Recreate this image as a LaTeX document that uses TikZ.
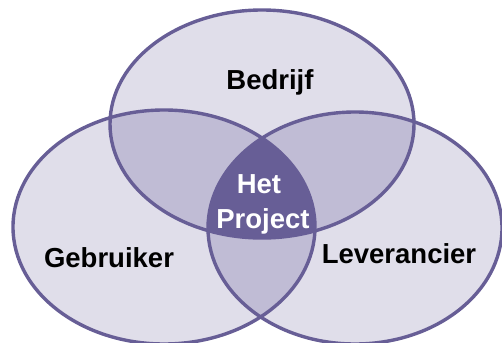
\documentclass[tikz,border=0pt]{standalone}
\usepackage{fontspec}
\setmainfont{Liberation Sans}
\definecolor{setfill}{HTML}{E0DEEA}
\definecolor{pairfill}{HTML}{C0BCD5}
\definecolor{corefill}{HTML}{675E96}
\definecolor{setline}{HTML}{675E96}
\begin{document}
\begin{tikzpicture}[x=1pt,y=-1pt,
  lbl/.style={font=\fontsize{27.5}{34}\selectfont\bfseries, inner sep=0pt, align=center},
  rim/.style={draw=setline, line width=3.4pt}]
\useasboundingbox (0,0) rectangle (502,342);
% ellipse centres
\coordinate (cB) at (262,124);
\coordinate (cG) at (164,227);
\coordinate (cL) at (355,228);
\def\topE{(cB) ellipse [x radius=152, y radius=114]}
\def\leftE{(cG) ellipse [x radius=151, y radius=117]}
\def\rightE{(cL) ellipse [x radius=147, y radius=116]}
% base fills
\fill[setfill] \topE;
\fill[setfill] \leftE;
\fill[setfill] \rightE;
% pairwise overlaps
\begin{scope}\clip \topE; \fill[pairfill] \leftE; \fill[pairfill] \rightE;\end{scope}
\begin{scope}\clip \leftE; \fill[pairfill] \rightE;\end{scope}
% common core
\begin{scope}\clip \topE; \clip \leftE; \fill[corefill] \rightE;\end{scope}
% outlines
\draw[rim] \topE;
\draw[rim] \leftE;
\draw[rim] \rightE;
% labels
\node[lbl, anchor=base] (bedrijf) at (270,89) {Bedrijf};
\node[lbl, anchor=base] (gebruiker) at (109,267) {Gebruiker};
\node[lbl, anchor=base] (leverancier) at (399,263) {Leverancier};
\node[lbl, anchor=base, text=white] (het) at (259,193) {Het};
\node[lbl, anchor=base, text=white] (project) at (263,228) {Project};
\end{tikzpicture}
\end{document}
